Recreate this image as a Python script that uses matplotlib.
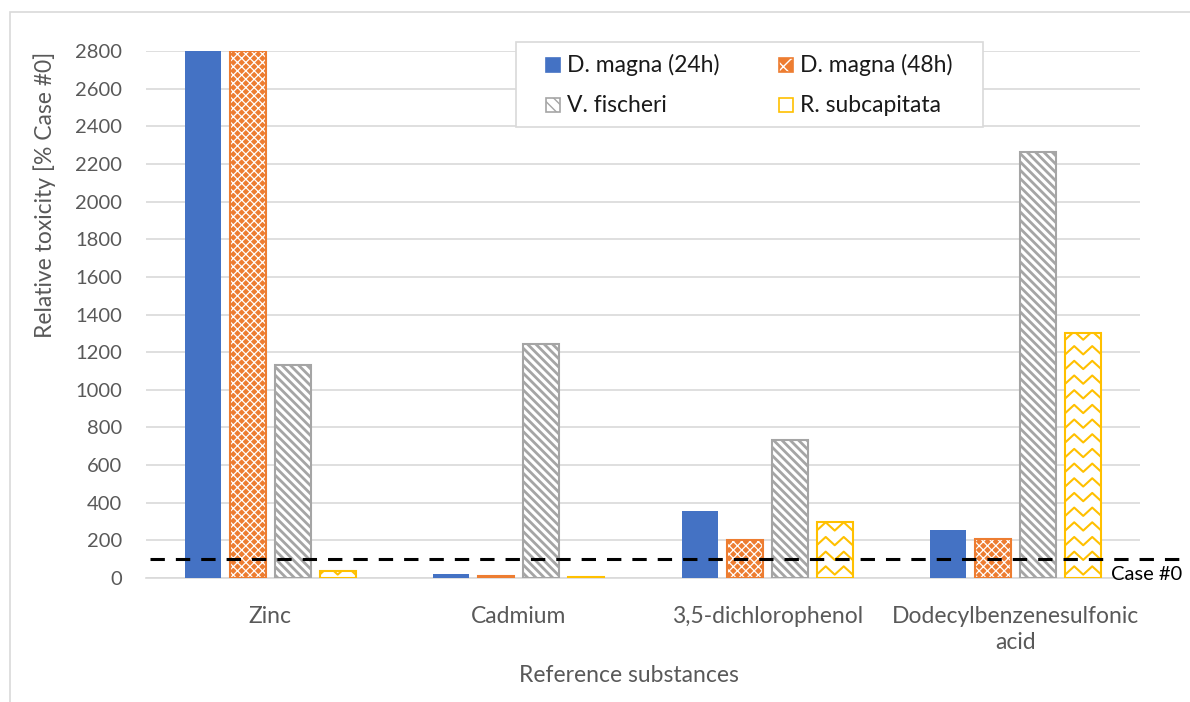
import numpy as np
import matplotlib
matplotlib.use("Agg")
import matplotlib.pyplot as plt
from matplotlib.patches import Rectangle
from matplotlib.transforms import blended_transform_factory

# toxicity of reference substances, relative to Case #0 (%)
substances = ["Zinc", "Cadmium", "3,5-dichlorophenol", "Dodecylbenzenesulfonic\nacid"]
species = ["D. magna (24h)", "D. magna (48h)", "V. fischeri", "R. subcapitata"]
magna_24h = [2800, 22, 355, 253]
magna_48h = [2800, 8, 200, 205]
fischeri = [1130, 1245, 735, 2265]
subcapitata = [35, 5, 298, 1303]
case0_level = 100
yticks = list(range(0, 2801, 200))

BLUE = "#4472C4"
ORANGE = "#ED7D31"
GRAY = "#A5A5A5"
YELLOW = "#FFC000"
TEXT = "#595959"
GRID = "#D9D9D9"

W, H = 1190, 702

plt.rcParams["font.family"] = ["Lato", "DejaVu Sans"]
plt.rcParams["hatch.linewidth"] = 1.0


def px(x, y):
    """Pixel position (from top left) to figure fraction."""
    return x / W, 1 - y / H


def hatch_lw(artists, lw):
    for a in artists:
        if hasattr(a, "set_hatch_linewidth"):
            a.set_hatch_linewidth(lw)


fig = plt.figure(figsize=(W / 100, H / 100), dpi=100)
ax = fig.add_axes([146 / W, 1 - 578 / H, 994 / W, 527 / H])

# outer chart border
fig.patches.append(Rectangle(px(10, 760), 1.2, (760 - 12) / H,
                             transform=fig.transFigure, fill=False,
                             edgecolor=GRID, lw=1.2, zorder=0))

x = np.arange(len(substances))
step = 0.181
width = 0.145
offsets = (np.arange(4) - 1.5) * step

# D. magna 24h: solid blue
ax.bar(x + offsets[0], magna_24h, width, color=BLUE, zorder=3)

# D. magna 48h: orange with white lattice
b = ax.bar(x + offsets[1], magna_48h, width, facecolor=ORANGE, edgecolor="white",
           hatch="xxxx", lw=0, zorder=3)
hatch_lw(b, 0.9)
ax.bar(x + offsets[1], magna_48h, width, facecolor="none", edgecolor=ORANGE,
       lw=1.5, zorder=4)

# V. fischeri: gray diagonal stripes
b = ax.bar(x + offsets[2], fischeri, width, facecolor="white", edgecolor=GRAY,
           hatch="\\\\\\\\", lw=0, zorder=3)
hatch_lw(b, 2.0)
ax.bar(x + offsets[2], fischeri, width, facecolor="none", edgecolor=GRAY,
       lw=1.5, zorder=4)

# R. subcapitata: yellow zigzag fill, clipped to each bar
rs_bars = ax.bar(x + offsets[3], subcapitata, width, facecolor="white",
                 edgecolor="none", lw=0, zorder=3)
for rect in rs_bars:
    x0 = rect.get_x()
    h = rect.get_height()
    zx = np.linspace(x0, x0 + width, 5)
    for base in np.arange(40, h + 80, 78):
        zy = base + np.where(np.arange(5) % 2 == 0, -22, 22)
        line, = ax.plot(zx, zy, color=YELLOW, lw=1.5, zorder=3.5)
        line.set_clip_path(rect)
ax.bar(x + offsets[3], subcapitata, width, facecolor="none", edgecolor=YELLOW,
       lw=1.5, zorder=4)

# Case #0 reference line, running past the plot area
trans = blended_transform_factory(ax.transAxes, ax.transData)
ax.plot([0.004, 1.06], [case0_level, case0_level], transform=trans,
        color="black", lw=2.2, dashes=(4.7, 3.6), clip_on=False, zorder=5)
fig.text(*px(1111, 574), "Case #0", fontsize=14.5, color="black",
         va="center", ha="left")

ax.set_xlim(-0.5, len(substances) - 0.5)
ax.set_ylim(0, 2800)
ax.set_yticks(yticks)
ax.set_xticks(x)
ax.set_xticklabels(substances, linespacing=1.3)
ax.tick_params(axis="y", length=0, labelsize=14.5, labelcolor=TEXT, pad=17)
ax.tick_params(axis="x", length=0, labelsize=16.5, labelcolor=TEXT, pad=20)
ax.grid(axis="y", color=GRID, lw=1.2, zorder=0)
ax.set_axisbelow(True)
for side in ["top", "right", "left"]:
    ax.spines[side].set_visible(False)
ax.spines["bottom"].set_color(GRID)
ax.spines["bottom"].set_linewidth(1.2)

fig.text(*px(45, 195), "Relative toxicity [% Case #0]", rotation=90,
         fontsize=16.5, color=TEXT, ha="center", va="center")
fig.text(*px(629, 675), "Reference substances", fontsize=16.5, color=TEXT,
         ha="center", va="center")

# legend box: two rows, two columns
fig.patches.append(Rectangle(px(516, 127), 467 / W, 85 / H,
                             transform=fig.transFigure, facecolor="white",
                             edgecolor=GRID, lw=1.2, zorder=6))
handle_styles = [
    dict(facecolor=BLUE, edgecolor=BLUE, lw=0),
    dict(facecolor=ORANGE, edgecolor="white", hatch="xx", lw=0),
    dict(facecolor="white", edgecolor=GRAY, hatch="\\\\\\", lw=0),
    dict(facecolor="white", edgecolor=YELLOW, hatch="^^", lw=0),
]
outline = [BLUE, ORANGE, GRAY, YELLOW]
col_x = [546, 779]
row_y = [65, 105]
for i, (name, style) in enumerate(zip(species, handle_styles)):
    hx, hy = col_x[i % 2], row_y[i // 2]
    p = Rectangle(px(hx, hy + 7), 14 / W, 14 / H, transform=fig.transFigure,
                  zorder=7, **style)
    fig.patches.append(p)
    fig.patches.append(Rectangle(px(hx, hy + 7), 14 / W, 14 / H,
                                 transform=fig.transFigure, facecolor="none",
                                 edgecolor=outline[i], lw=1.2, zorder=8))
    fig.text(*px(hx + 21, hy), name, fontsize=16.5, color="#1a1a1a",
             va="center", ha="left", zorder=9)

fig.savefig("out.png", dpi=100, facecolor="white")
